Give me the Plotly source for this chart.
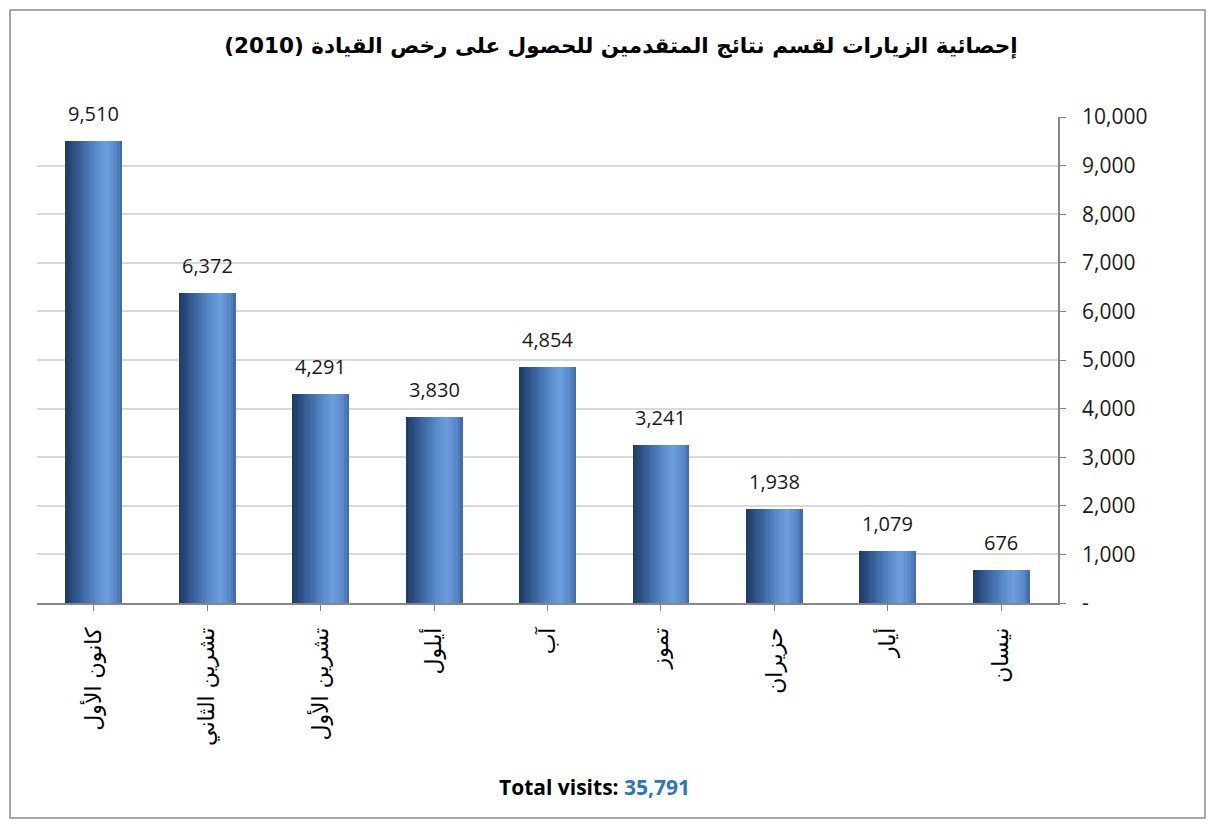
import plotly.graph_objects as go

months = ["كانون الأول", "تشرين الثاني", "تشرين الأول", "أيلول", "آب", "تموز", "حزيران", "أيار", "نيسان"]
visits = [9510, 6372, 4291, 3830, 4854, 3241, 1938, 1079, 676]
y_tickvals = [0, 1000, 2000, 3000, 4000, 5000, 6000, 7000, 8000, 9000, 10000]
y_ticktext = ["-", "1,000", "2,000", "3,000", "4,000", "5,000", "6,000", "7,000", "8,000", "9,000", "10,000"]
title_text = "إحصائية الزيارات لقسم نتائج المتقدمين للحصول على رخص القيادة (2010)"

W, H = 1216, 830
L, R, T, B = 37, 158, 117, 227
PW, PH = W - L - R, H - T - B

# horizontal gradient for cylinder-like bars (left dark -> light -> slightly dark)
stops = [(0.0, (30, 58, 98)), (0.25, (55, 95, 152)), (0.55, (90, 140, 205)),
         (0.72, (108, 158, 224)), (0.9, (88, 134, 198)), (1.0, (62, 102, 162))]

def grad(t):
    for (t0, c0), (t1, c1) in zip(stops[:-1], stops[1:]):
        if t0 <= t <= t1:
            f = (t - t0) / (t1 - t0)
            return "rgb(%d,%d,%d)" % tuple(round(a + (b - a) * f) for a, b in zip(c0, c1))
    return "rgb(%d,%d,%d)" % stops[-1][1]

fig = go.Figure()
bar_w = 0.5
N = 24
sw = bar_w / N
for i in range(N):
    fig.add_trace(go.Bar(
        x=list(range(len(months))), y=visits,
        width=sw * 1.08, offset=-bar_w / 2 + i * sw,
        marker=dict(color=grad((i + 0.5) / N), line=dict(width=0)),
        hoverinfo="skip", showlegend=False))

total = sum(visits)

annotations = [dict(x=i, y=v, xref="x", yref="y", text=f"{v:,}", showarrow=False,
                    yanchor="bottom", xanchor="center", yshift=12,
                    font=dict(family="Open Sans, Lato, sans-serif", size=20, color="#1a1a1a"))
               for i, v in enumerate(visits)]
annotations.append(dict(
    text="<b>Total visits: <span style='color:#2E75B6'>%s</span></b>" % f"{total:,}",
    xref="paper", yref="paper", x=(594 - L) / PW, y=(H - B - 787) / PH,
    xanchor="center", yanchor="middle", showarrow=False,
    font=dict(family="Open Sans, Lato, sans-serif", size=21, color="black")))

fig.update_layout(
    width=W, height=H, barmode="overlay", bargap=0,
    margin=dict(l=L, r=R, t=T, b=B),
    paper_bgcolor="white", plot_bgcolor="white",
    title=dict(text="<b>" + title_text + "</b>", x=621 / W, xref="container", xanchor="center",
               y=(H - 45) / H, yanchor="middle",
               font=dict(family="DejaVu Sans, Noto Sans, sans-serif", size=21.5, color="black")),
    xaxis=dict(range=[-0.5, len(months) - 0.5], tickmode="array",
               tickvals=list(range(len(months))), ticktext=months, tickangle=-90,
               ticks="outside", tickson="boundaries", ticklen=6, tickcolor="#868686",
               ticklabelstandoff=8,
               showline=True, linecolor="#868686", linewidth=1.5, showgrid=False,
               tickfont=dict(family="DejaVu Sans, Noto Sans, sans-serif", size=22, color="black")),
    yaxis=dict(range=[0, 10000], side="right", tickmode="array", tickvals=y_tickvals,
               ticktext=y_ticktext, ticks="outside", ticklen=6, tickcolor="#868686",
               ticklabelstandoff=12,
               showline=True, linecolor="#868686", linewidth=1.5,
               showgrid=True, gridcolor="#d9d9d9", gridwidth=1.5, zeroline=False,
               tickfont=dict(family="Open Sans, Lato, sans-serif", size=21, color="#1a1a1a")),
    annotations=annotations,
    shapes=[dict(type="rect", xref="paper", yref="paper",
                 x0=(10 - L) / PW, x1=(1205 - L) / PW,
                 y0=(H - B - 818) / PH, y1=(H - B - 10) / PH,
                 line=dict(color="#8c8c8c", width=1.5), layer="below")],
)

fig.write_html("out.html", config={"displayModeBar": False},
               post_script="document.body.style.margin='0';")
